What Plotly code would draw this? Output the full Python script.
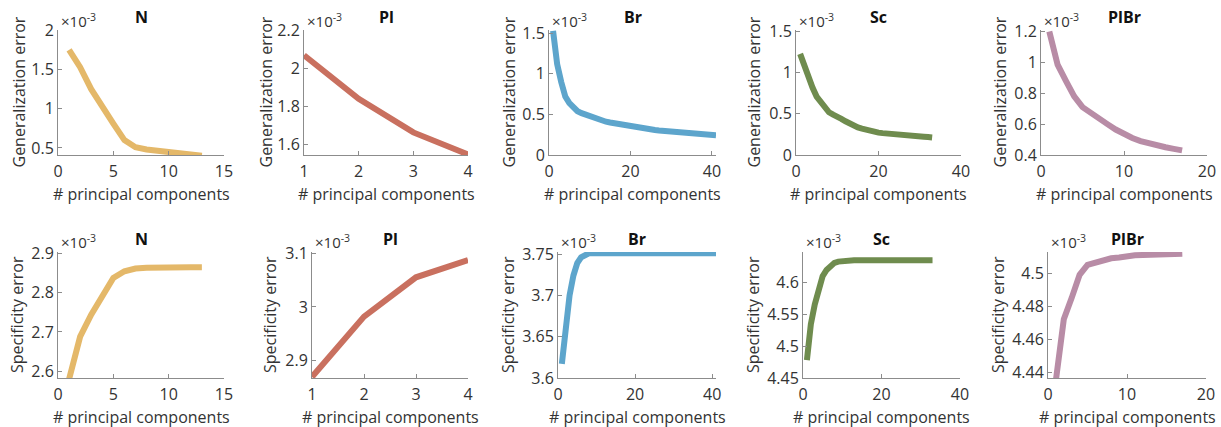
import plotly.graph_objects as go

# ---------------- data (errors in units of 1e-3) ----------------
titles = ["N", "Pl", "Br", "Sc", "PlBr"]
colors = ["#E4B869", "#C9705F", "#5DA5CC", "#6F8C4E", "#B88CA6"]

n_gen = [1.75, 1.53, 1.25, 1.02, 0.81, 0.60, 0.51, 0.48, 0.46, 0.445, 0.43, 0.415, 0.40]
pl_gen = [2.068, 1.84, 1.665, 1.55]
br_gen = [1.53, 1.12, 0.90, 0.72, 0.64, 0.58, 0.54, 0.515, 0.495, 0.475, 0.455, 0.44, 0.425,
          0.41, 0.40, 0.39, 0.38, 0.37, 0.36, 0.35, 0.34, 0.333, 0.326, 0.32, 0.314, 0.308,
          0.302, 0.297, 0.292, 0.287, 0.282, 0.277, 0.273, 0.269, 0.265, 0.261, 0.257, 0.253,
          0.25, 0.247, 0.244]
sc_gen = [1.23, 1.08, 0.94, 0.82, 0.71, 0.64, 0.57, 0.52, 0.49, 0.47, 0.44, 0.41, 0.38, 0.355,
          0.335, 0.32, 0.305, 0.29, 0.28, 0.272, 0.266, 0.26, 0.256, 0.252, 0.249, 0.245, 0.241,
          0.237, 0.233, 0.228, 0.223, 0.218, 0.213]
plbr_gen = [1.20, 0.985, 0.88, 0.78, 0.71, 0.67, 0.635, 0.60, 0.565, 0.535, 0.51, 0.49, 0.475,
            0.46, 0.45, 0.44, 0.43]

n_spec = [2.58, 2.688, 2.744, 2.79, 2.837, 2.854, 2.861, 2.863, 2.864, 2.864, 2.864, 2.864, 2.864]
pl_spec = [2.87, 2.982, 3.055, 3.087]
br_spec = [3.617, 3.668, 3.70, 3.724, 3.739, 3.746, 3.749] + [3.751] * 34
sc_spec = [4.478, 4.534, 4.565, 4.591, 4.609, 4.619, 4.626, 4.63, 4.632, 4.633] + [4.634] * 23
plbr_spec = [4.435, 4.472, 4.485, 4.499, 4.505, 4.5064, 4.508, 4.509, 4.5095, 4.5104, 4.5108,
             4.511, 4.5112, 4.5114, 4.5116, 4.5117, 4.5118]

gen_series = [n_gen, pl_gen, br_gen, sc_gen, plbr_gen]
spec_series = [n_spec, pl_spec, br_spec, sc_spec, plbr_spec]

x_ranges = [[0, 15], [1, 4], [0, 41], [0, 40], [0, 20]]
x_ticks = [[0, 5, 10, 15], [1, 2, 3, 4], [0, 20, 40], [0, 20, 40], [0, 10, 20]]

gen_yranges = [[0.41, 2.005], [1.547, 2.2], [0, 1.54], [0, 1.52], [0.4, 1.21]]
gen_yticks = [["0.5", "1", "1.5", "2"], ["1.6", "1.8", "2", "2.2"], ["0", "0.5", "1", "1.5"],
              ["0", "0.5", "1", "1.5"], ["0.4", "0.6", "0.8", "1", "1.2"]]
spec_yranges = [[2.583, 2.903], [2.868, 3.102], [3.6, 3.7525], [4.45, 4.647], [4.4364, 4.5128]]
spec_yticks = [["2.6", "2.7", "2.8", "2.9"], ["2.9", "3", "3.1"], ["3.6", "3.65", "3.7", "3.75"],
               ["4.45", "4.5", "4.55", "4.6"], ["4.44", "4.46", "4.48", "4.5"]]

# ---------------- layout geometry (pixels) ----------------
W, H = 1221, 427
top_x = [(58, 224), (304, 468), (549, 716), (796, 961), (1041, 1207)]
bot_x = [(58, 224), (312, 468), (558, 716), (803, 960), (1048, 1206)]
top_y = (30, 155)
bot_y = (252, 378)
top_ylab_x = [18, 265, 508, 753, 999]
bot_ylab_x = [17, 270, 508, 753, 998]

FONT = "Open Sans"
TXT = "#333333"
AX = "#8c8c8c"

fig = go.Figure()
annotations = []


def px2x(p):
    return p / W


def px2y(p):
    return 1 - p / H


idx = 0
for row in range(2):
    series = gen_series if row == 0 else spec_series
    yranges = gen_yranges if row == 0 else spec_yranges
    yticks = gen_yticks if row == 0 else spec_yticks
    xs_px = top_x if row == 0 else bot_x
    ys_px = top_y if row == 0 else bot_y
    ylab_x = top_ylab_x if row == 0 else bot_ylab_x
    ylabel = "Generalization error" if row == 0 else "Specificity error"
    for col in range(5):
        idx += 1
        xa = "x" if idx == 1 else f"x{idx}"
        ya = "y" if idx == 1 else f"y{idx}"
        xkey = "xaxis" if idx == 1 else f"xaxis{idx}"
        ykey = "yaxis" if idx == 1 else f"yaxis{idx}"
        vals = series[col]
        xs = list(range(1, len(vals) + 1))
        fig.add_trace(go.Scatter(x=xs, y=vals, mode="lines", xaxis=xa, yaxis=ya,
                                 line=dict(color=colors[col], width=6), showlegend=False,
                                 hoverinfo="skip"))
        x0, x1 = xs_px[col]
        yt, yb = ys_px
        fig.layout[xkey] = dict(domain=[px2x(x0), px2x(x1)], anchor=ya, range=x_ranges[col],
                                tickmode="array", tickvals=x_ticks[col],
                                ticktext=[str(v) for v in x_ticks[col]], automargin=False,
                                showline=True, linecolor=AX, linewidth=1, mirror=False,
                                ticks="inside", ticklen=4, tickcolor=AX, showgrid=False,
                                ticklabelstandoff=2,
                                zeroline=False, tickfont=dict(family=FONT, size=16, color=TXT))
        fig.layout[ykey] = dict(domain=[px2y(yb), px2y(yt)], anchor=xa, range=yranges[col],
                                tickmode="array", tickvals=[float(t) for t in yticks[col]],
                                ticktext=yticks[col], automargin=False,
                                showline=True, linecolor=AX, linewidth=1, mirror=False,
                                ticks="inside", ticklen=4, tickcolor=AX, showgrid=False,
                                zeroline=False, tickfont=dict(family=FONT, size=16, color=TXT))
        cx = (x0 + x1) / 2
        # title
        annotations.append(dict(text=f"<b>{titles[col]}</b>", x=px2x(cx), y=px2y(yt - 13),
                                xref="paper", yref="paper", showarrow=False,
                                font=dict(family=FONT, size=16, color="#111111"),
                                xanchor="center", yanchor="middle"))
        # exponent
        annotations.append(dict(text="×10<sup>-3</sup>", x=px2x(x0 + 1), y=px2y(yt - 10),
                                xref="paper", yref="paper", showarrow=False,
                                font=dict(family=FONT, size=15, color=TXT),
                                xanchor="left", yanchor="middle"))
        # x label
        annotations.append(dict(text="# principal components", x=px2x(cx),
                                y=px2y(yb + 39), xref="paper", yref="paper", showarrow=False,
                                font=dict(family=FONT, size=16, color=TXT),
                                xanchor="center", yanchor="middle"))
        # y label
        annotations.append(dict(text=ylabel, x=px2x(ylab_x[col]), y=px2y((yt + yb) / 2),
                                xref="paper", yref="paper", showarrow=False, textangle=-90,
                                font=dict(family=FONT, size=16, color=TXT),
                                xanchor="center", yanchor="middle"))

fig.update_layout(width=W, height=H, margin=dict(l=0, r=0, t=0, b=0),
                  paper_bgcolor="white", plot_bgcolor="white",
                  annotations=annotations, showlegend=False)

fig.write_html("out.html", config={"displayModeBar": False, "staticPlot": True},
               post_script="document.body.style.margin='0';document.body.style.overflow='hidden';")
